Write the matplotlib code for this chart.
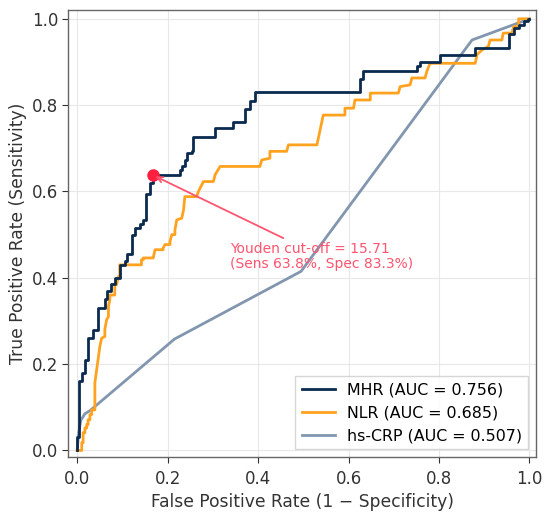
import matplotlib
matplotlib.use("Agg")
import matplotlib.pyplot as plt

# ---- data ----
mhr_fpr = [0, 0, 0.003, 0.003, 0.010, 0.010, 0.017, 0.017, 0.024, 0.024, 0.035, 0.035,
           0.046, 0.046, 0.061, 0.061, 0.065, 0.065, 0.075, 0.075, 0.083, 0.083, 0.094, 0.094,
           0.105, 0.105, 0.109, 0.109, 0.120, 0.120, 0.128, 0.128, 0.138, 0.138, 0.145, 0.145,
           0.153, 0.153, 0.161, 0.161, 0.167, 0.167, 0.227, 0.227, 0.231, 0.231, 0.238, 0.238,
           0.242, 0.242, 0.253, 0.253, 0.257, 0.257, 0.305, 0.305, 0.345, 0.345, 0.371, 0.371,
           0.382, 0.382, 0.393, 0.393, 0.625, 0.625, 0.631, 0.631, 0.751, 0.751, 0.758, 0.758,
           0.802, 0.802, 0.880, 0.880, 0.955, 0.955, 0.965, 0.965, 0.976, 0.976, 0.987, 0.987,
           0.996, 0.996, 1.0]
mhr_tpr = [0, 0.03, 0.03, 0.16, 0.16, 0.18, 0.18, 0.21, 0.21, 0.26, 0.26, 0.28,
           0.28, 0.33, 0.33, 0.35, 0.35, 0.37, 0.37, 0.385, 0.385, 0.40, 0.40, 0.43,
           0.43, 0.44, 0.44, 0.455, 0.455, 0.50, 0.50, 0.515, 0.515, 0.525, 0.525, 0.535,
           0.535, 0.595, 0.595, 0.62, 0.62, 0.638, 0.638, 0.65, 0.65, 0.658, 0.658, 0.673,
           0.673, 0.689, 0.689, 0.693, 0.693, 0.727, 0.727, 0.747, 0.747, 0.762, 0.762, 0.79,
           0.79, 0.81, 0.81, 0.83, 0.83, 0.86, 0.86, 0.88, 0.88, 0.89, 0.89, 0.899,
           0.899, 0.917, 0.917, 0.932, 0.932, 0.965, 0.965, 0.978, 0.978, 0.985, 0.985, 0.994,
           0.994, 1.0, 1.0]

nlr_fpr = [0, 0.010, 0.010, 0.013, 0.013, 0.017, 0.017, 0.021, 0.021, 0.024, 0.024, 0.028,
           0.028, 0.032, 0.032, 0.039, 0.039, 0.046, 0.050, 0.054, 0.061, 0.061, 0.065, 0.069,
           0.069, 0.072, 0.072, 0.083, 0.083, 0.087, 0.091, 0.094, 0.094, 0.142, 0.142, 0.146,
           0.146, 0.168, 0.172, 0.190, 0.190, 0.194, 0.205, 0.205, 0.209, 0.216, 0.216, 0.220,
           0.231, 0.235, 0.238, 0.264, 0.268, 0.279, 0.301, 0.305, 0.316, 0.404, 0.408, 0.426,
           0.426, 0.463, 0.467, 0.530, 0.544, 0.592, 0.592, 0.611, 0.614, 0.648, 0.648, 0.710,
           0.714, 0.736, 0.740, 0.769, 0.773, 0.780, 0.880, 0.884, 0.895, 0.909, 0.913, 0.939,
           0.942, 0.961, 0.965, 0.976, 0.976, 1.0]
nlr_tpr = [0, 0, 0.018, 0.018, 0.041, 0.041, 0.052, 0.052, 0.06, 0.06, 0.071, 0.071,
           0.083, 0.083, 0.094, 0.094, 0.157, 0.21, 0.241, 0.26, 0.264, 0.28, 0.303, 0.31,
           0.334, 0.349, 0.36, 0.36, 0.384, 0.384, 0.403, 0.403, 0.430, 0.430, 0.442, 0.442,
           0.446, 0.446, 0.465, 0.465, 0.469, 0.477, 0.477, 0.484, 0.50, 0.50, 0.511, 0.534,
           0.538, 0.557, 0.588, 0.588, 0.60, 0.623, 0.623, 0.639, 0.658, 0.658, 0.673, 0.677,
           0.693, 0.693, 0.708, 0.708, 0.777, 0.777, 0.793, 0.793, 0.812, 0.812, 0.828, 0.828,
           0.843, 0.847, 0.863, 0.863, 0.878, 0.897, 0.897, 0.917, 0.928, 0.936, 0.951, 0.951,
           0.967, 0.967, 0.982, 0.982, 1.0, 1.0]

crp_fpr = [0, 0.003, 0.008, 0.017, 0.028, 0.215, 0.495, 0.873, 1.0]
crp_tpr = [0, 0.04, 0.07, 0.085, 0.092, 0.258, 0.415, 0.951, 1.0]

labels = ["MHR (AUC = 0.756)", "NLR (AUC = 0.685)", "hs-CRP (AUC = 0.507)"]
youden_fpr, youden_tpr = 0.167, 0.638
youden_text = "Youden cut-off = 15.71\n(Sens 63.8%, Spec 83.3%)"
ticks = [0.0, 0.2, 0.4, 0.6, 0.8, 1.0]

# ---- figure ----
fig = plt.figure(figsize=(5.5, 5.15), dpi=100)
ax = fig.add_axes([0.124, 0.112, 0.851, 0.869])

ax.plot(mhr_fpr, mhr_tpr, color="#0b2a4f", lw=2.0, label=labels[0], zorder=4)
ax.plot(nlr_fpr, nlr_tpr, color="#ffa21f", lw=2.0, label=labels[1], zorder=3)
ax.plot(crp_fpr, crp_tpr, color="#8296b0", lw=2.0, label=labels[2], zorder=2)

ax.plot([youden_fpr], [youden_tpr], "o", color="#ff2040", ms=8, zorder=6)
ax.annotate(youden_text, xy=(youden_fpr + 0.006, youden_tpr - 0.003),
            xytext=(0.338, 0.449), textcoords="data",
            ha="left", va="center", fontsize=10, color="#ff5470",
            linespacing=1.1,
            arrowprops=dict(arrowstyle="->", color="#ff5470", lw=1.3,
                            shrinkA=2, shrinkB=0), zorder=7)

ax.set_xlim(-0.02, 1.015)
ax.set_ylim(-0.016, 1.021)
ax.set_xticks(ticks)
ax.set_yticks(ticks)
ax.tick_params(labelsize=12, colors="#333333", length=4.5)
ax.tick_params(axis="y", pad=2.5)
ax.tick_params(axis="x", pad=4.5)
for s in ax.spines.values():
    s.set_color("#666666")
    s.set_linewidth(1.0)
ax.grid(True, color="#e8e8e8", lw=0.8)
ax.set_axisbelow(True)
ax.set_xlabel("False Positive Rate (1 \u2212 Specificity)", fontsize=12.3, color="#333333",
              labelpad=4)
ax.set_ylabel("True Positive Rate (Sensitivity)", fontsize=12.3, color="#333333",
              labelpad=4)

leg = ax.legend(loc="lower right", fontsize=11.4, frameon=True, fancybox=False,
                handlelength=2.1, handletextpad=0.75, borderaxespad=0.5)
leg.get_frame().set_edgecolor("#cccccc")

fig.savefig("out.png", dpi=100)
